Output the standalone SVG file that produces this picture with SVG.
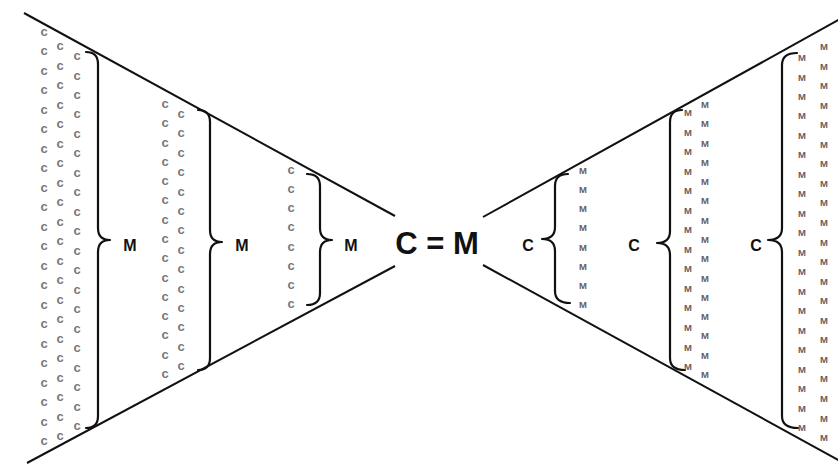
<svg xmlns="http://www.w3.org/2000/svg" width="838" height="466" viewBox="0 0 838 466">
<style>
.c{font-family:"Liberation Sans",Arial,sans-serif;font-weight:bold;font-size:13px;fill:#777;text-anchor:middle}
.m{font-family:"Liberation Sans",Arial,sans-serif;font-weight:bold;font-size:9.5px;fill:#6a5d5d;text-anchor:middle}
.lbl{font-family:"Liberation Sans",Arial,sans-serif;font-weight:bold;font-size:16px;fill:#111;text-anchor:middle}
.big{font-family:"Liberation Sans",Arial,sans-serif;font-weight:bold;font-size:31px;fill:#111;text-anchor:middle}
.brace{fill:none;stroke:#111;stroke-width:2.2;stroke-linecap:round;stroke-linejoin:round}
.edge{fill:none;stroke:#111;stroke-width:2}
</style>
<rect width="838" height="466" fill="#fff"/>
<g id="connectors">
<line class="edge" x1="24" y1="13" x2="395" y2="216"/>
<line class="edge" x1="27" y1="463" x2="395" y2="266"/>
<line class="edge" x1="483" y1="217" x2="842" y2="18"/>
<line class="edge" x1="483" y1="265" x2="842" y2="462"/>
</g>
<g id="left-outer">
<text class="c" x="44" y="36">c</text><text class="c" x="44" y="55">c</text><text class="c" x="44" y="75">c</text><text class="c" x="44" y="94">c</text><text class="c" x="44" y="114">c</text><text class="c" x="44" y="133">c</text><text class="c" x="44" y="153">c</text><text class="c" x="44" y="172">c</text><text class="c" x="44" y="192">c</text><text class="c" x="44" y="211">c</text><text class="c" x="44" y="231">c</text><text class="c" x="44" y="250">c</text><text class="c" x="44" y="270">c</text><text class="c" x="44" y="289">c</text><text class="c" x="44" y="309">c</text><text class="c" x="44" y="328">c</text><text class="c" x="44" y="348">c</text><text class="c" x="44" y="367">c</text><text class="c" x="44" y="387">c</text><text class="c" x="44" y="406">c</text><text class="c" x="44" y="426">c</text><text class="c" x="44" y="445">c</text>
<text class="c" x="60" y="50">c</text><text class="c" x="60" y="69.5">c</text><text class="c" x="60" y="89">c</text><text class="c" x="60" y="108.5">c</text><text class="c" x="60" y="128">c</text><text class="c" x="60" y="147.5">c</text><text class="c" x="60" y="167">c</text><text class="c" x="60" y="186.5">c</text><text class="c" x="60" y="206">c</text><text class="c" x="60" y="225.5">c</text><text class="c" x="60" y="245">c</text><text class="c" x="60" y="264.5">c</text><text class="c" x="60" y="284">c</text><text class="c" x="60" y="303.5">c</text><text class="c" x="60" y="323">c</text><text class="c" x="60" y="342.5">c</text><text class="c" x="60" y="362">c</text><text class="c" x="60" y="381.5">c</text><text class="c" x="60" y="401">c</text><text class="c" x="60" y="420.5">c</text><text class="c" x="60" y="440">c</text>
<text class="c" x="77" y="60">c</text><text class="c" x="77" y="79.5">c</text><text class="c" x="77" y="98.9">c</text><text class="c" x="77" y="118.4">c</text><text class="c" x="77" y="137.9">c</text><text class="c" x="77" y="157.4">c</text><text class="c" x="77" y="176.8">c</text><text class="c" x="77" y="196.3">c</text><text class="c" x="77" y="215.8">c</text><text class="c" x="77" y="235.2">c</text><text class="c" x="77" y="254.7">c</text><text class="c" x="77" y="274.2">c</text><text class="c" x="77" y="293.7">c</text><text class="c" x="77" y="313.1">c</text><text class="c" x="77" y="332.6">c</text><text class="c" x="77" y="352.1">c</text><text class="c" x="77" y="371.5">c</text><text class="c" x="77" y="391">c</text><text class="c" x="77" y="410.5">c</text><text class="c" x="77" y="430">c</text>
<path class="brace" d="M86,52 Q98,52 98,64 L98,228 Q98,240 110,240 Q98,240 98,252 L98,416 Q98,428 86,428"/>
<text class="lbl" x="130" y="251">M</text>
</g>
<g id="left-middle">
<text class="c" x="165" y="108">c</text><text class="c" x="165" y="127.3">c</text><text class="c" x="165" y="146.6">c</text><text class="c" x="165" y="165.9">c</text><text class="c" x="165" y="185.1">c</text><text class="c" x="165" y="204.4">c</text><text class="c" x="165" y="223.7">c</text><text class="c" x="165" y="243">c</text><text class="c" x="165" y="262.3">c</text><text class="c" x="165" y="281.6">c</text><text class="c" x="165" y="300.9">c</text><text class="c" x="165" y="320.1">c</text><text class="c" x="165" y="339.4">c</text><text class="c" x="165" y="358.7">c</text><text class="c" x="165" y="378">c</text>
<text class="c" x="181" y="118">c</text><text class="c" x="181" y="137.4">c</text><text class="c" x="181" y="156.8">c</text><text class="c" x="181" y="176.2">c</text><text class="c" x="181" y="195.5">c</text><text class="c" x="181" y="214.9">c</text><text class="c" x="181" y="234.3">c</text><text class="c" x="181" y="253.7">c</text><text class="c" x="181" y="273.1">c</text><text class="c" x="181" y="292.5">c</text><text class="c" x="181" y="311.8">c</text><text class="c" x="181" y="331.2">c</text><text class="c" x="181" y="350.6">c</text><text class="c" x="181" y="370">c</text>
<path class="brace" d="M198,110 Q210,110 210,122 L210,230 Q210,242 222,242 Q210,242 210,254 L210,358 Q210,370 198,370"/>
<text class="lbl" x="242" y="251">M</text>
</g>
<g id="left-inner">
<text class="c" x="291" y="174">c</text><text class="c" x="291" y="193.1">c</text><text class="c" x="291" y="212.3">c</text><text class="c" x="291" y="231.4">c</text><text class="c" x="291" y="250.6">c</text><text class="c" x="291" y="269.7">c</text><text class="c" x="291" y="288.9">c</text><text class="c" x="291" y="308">c</text>
<path class="brace" d="M307,174 Q320,174 320,186 L320,228 Q320,240 332,240 Q320,240 320,252 L320,293 Q320,305 307,305"/>
<text class="lbl" x="351" y="251">M</text>
</g>
<g id="center">
<text class="big" x="437" y="254">C = M</text>
</g>
<g id="right-inner">
<path class="brace" d="M568,174 Q555,174 555,186 L555,227 Q555,239 542,239 Q555,239 555,251 L555,291 Q555,303 570,303"/>
<text class="lbl" x="528" y="251">C</text>
<text class="m" x="583" y="174">M</text><text class="m" x="583" y="193.1">M</text><text class="m" x="583" y="212.3">M</text><text class="m" x="583" y="231.4">M</text><text class="m" x="583" y="250.6">M</text><text class="m" x="583" y="269.7">M</text><text class="m" x="583" y="288.9">M</text><text class="m" x="583" y="308">M</text>
</g>
<g id="right-middle">
<path class="brace" d="M682,110 Q670,110 670,122 L670,231 Q670,243 657,243 Q670,243 670,255 L670,358 Q670,370 685,370"/>
<text class="lbl" x="634" y="251">C</text>
<text class="m" x="688" y="116">M</text><text class="m" x="688" y="135.5">M</text><text class="m" x="688" y="155.1">M</text><text class="m" x="688" y="174.6">M</text><text class="m" x="688" y="194.2">M</text><text class="m" x="688" y="213.7">M</text><text class="m" x="688" y="233.2">M</text><text class="m" x="688" y="252.8">M</text><text class="m" x="688" y="272.3">M</text><text class="m" x="688" y="291.8">M</text><text class="m" x="688" y="311.4">M</text><text class="m" x="688" y="330.9">M</text><text class="m" x="688" y="350.5">M</text><text class="m" x="688" y="370">M</text>
<text class="m" x="705" y="108">M</text><text class="m" x="705" y="127.3">M</text><text class="m" x="705" y="146.6">M</text><text class="m" x="705" y="165.9">M</text><text class="m" x="705" y="185.1">M</text><text class="m" x="705" y="204.4">M</text><text class="m" x="705" y="223.7">M</text><text class="m" x="705" y="243">M</text><text class="m" x="705" y="262.3">M</text><text class="m" x="705" y="281.6">M</text><text class="m" x="705" y="300.9">M</text><text class="m" x="705" y="320.1">M</text><text class="m" x="705" y="339.4">M</text><text class="m" x="705" y="358.7">M</text><text class="m" x="705" y="378">M</text>
</g>
<g id="right-outer">
<path class="brace" d="M797,53 Q782,53 782,65 L782,228 Q782,240 768,240 Q782,240 782,252 L782,416 Q782,428 798,428"/>
<text class="lbl" x="756" y="251">C</text>
<text class="m" x="802" y="61">M</text><text class="m" x="802" y="80.5">M</text><text class="m" x="802" y="99.9">M</text><text class="m" x="802" y="119.4">M</text><text class="m" x="802" y="138.9">M</text><text class="m" x="802" y="158.4">M</text><text class="m" x="802" y="177.8">M</text><text class="m" x="802" y="197.3">M</text><text class="m" x="802" y="216.8">M</text><text class="m" x="802" y="236.3">M</text><text class="m" x="802" y="255.7">M</text><text class="m" x="802" y="275.2">M</text><text class="m" x="802" y="294.7">M</text><text class="m" x="802" y="314.2">M</text><text class="m" x="802" y="333.6">M</text><text class="m" x="802" y="353.1">M</text><text class="m" x="802" y="372.6">M</text><text class="m" x="802" y="392.1">M</text><text class="m" x="802" y="411.5">M</text><text class="m" x="802" y="431">M</text>
<text class="m" x="824" y="50">M</text><text class="m" x="824" y="69.6">M</text><text class="m" x="824" y="89.1">M</text><text class="m" x="824" y="108.7">M</text><text class="m" x="824" y="128.2">M</text><text class="m" x="824" y="147.8">M</text><text class="m" x="824" y="167.3">M</text><text class="m" x="824" y="186.9">M</text><text class="m" x="824" y="206.4">M</text><text class="m" x="824" y="226">M</text><text class="m" x="824" y="245.5">M</text><text class="m" x="824" y="265.1">M</text><text class="m" x="824" y="284.6">M</text><text class="m" x="824" y="304.2">M</text><text class="m" x="824" y="323.7">M</text><text class="m" x="824" y="343.3">M</text><text class="m" x="824" y="362.8">M</text><text class="m" x="824" y="382.4">M</text><text class="m" x="824" y="401.9">M</text><text class="m" x="824" y="421.5">M</text><text class="m" x="824" y="441">M</text>
</g>
</svg>
